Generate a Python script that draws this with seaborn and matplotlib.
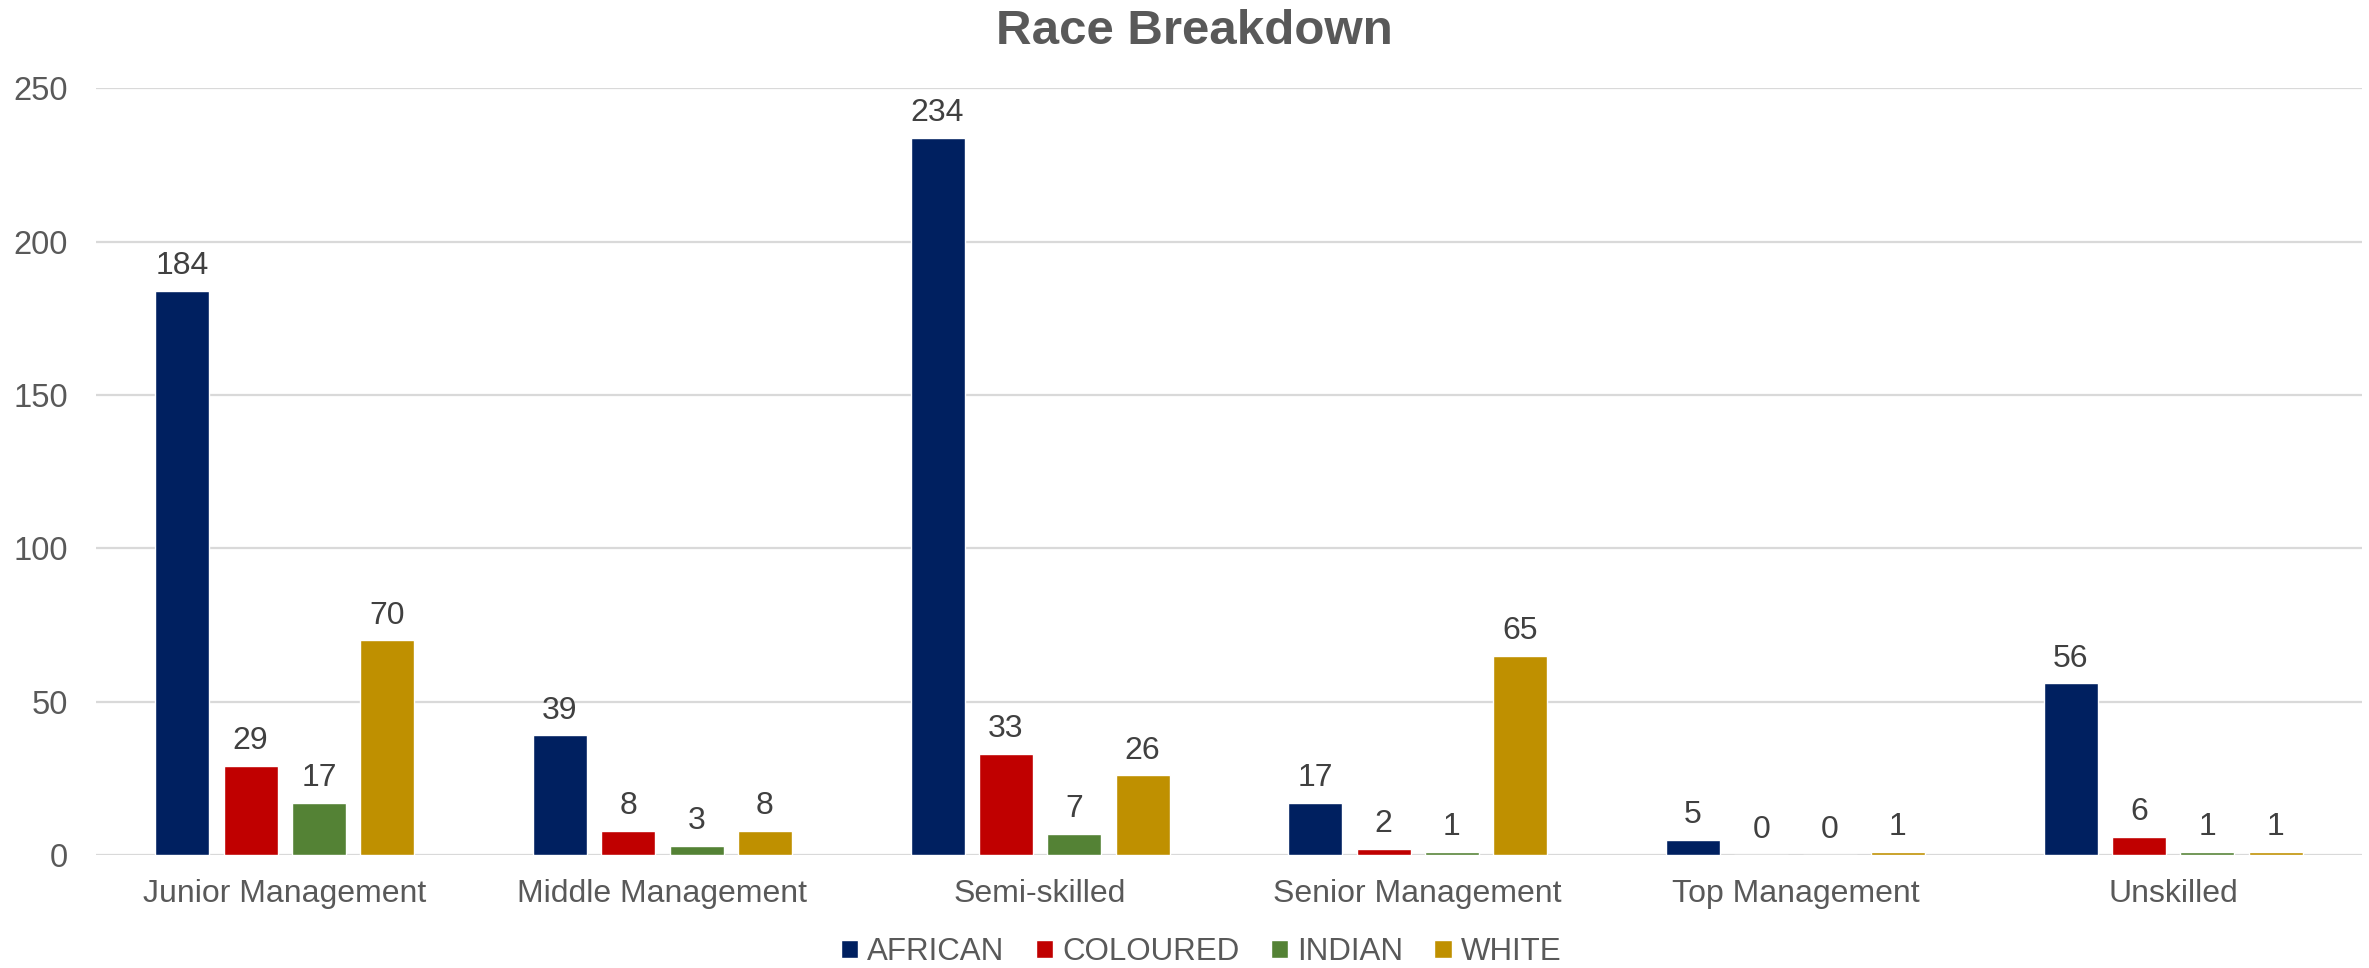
import matplotlib
matplotlib.use("Agg")
import matplotlib.pyplot as plt
import seaborn as sns
import pandas as pd

# Occupational levels and head counts per race group
levels = ["Junior Management", "Middle Management", "Semi-skilled",
          "Senior Management", "Top Management", "Unskilled"]
races = ["AFRICAN", "COLOURED", "INDIAN", "WHITE"]
african = [184, 39, 234, 17, 5, 56]
coloured = [29, 8, 33, 2, 0, 6]
indian = [17, 3, 7, 1, 0, 1]
white = [70, 8, 26, 65, 1, 1]
colors = ["#002060", "#C00000", "#548235", "#BF9000"]

rows = []
for race, vals in zip(races, [african, coloured, indian, white]):
    for lvl, v in zip(levels, vals):
        rows.append({"level": lvl, "race": race, "count": v})
df = pd.DataFrame(rows)

sns.set_theme(style="white")
plt.rcParams["font.family"] = ["Liberation Sans", "DejaVu Sans"]

text_grey = "#595959"
fig = plt.figure(figsize=(23.69, 9.68), dpi=100)
ax = fig.add_axes([0.0405, 0.1167, 0.9565, 0.7919])

sns.barplot(data=df, x="level", y="count", hue="race", order=levels,
            hue_order=races, palette=colors, width=0.724, gap=0.21,
            saturation=1, ax=ax, legend=True)

for cont in ax.containers:
    ax.bar_label(cont, padding=7, fontsize=23, color="#404040")

ax.set_ylim(0, 250)
ax.set_yticks(range(0, 251, 50))
ax.set_xlim(-0.5, len(levels) - 0.5)
ax.yaxis.grid(True, color="#D9D9D9", linewidth=1.6)
ax.set_axisbelow(True)
for s in ax.spines.values():
    s.set_visible(False)
ax.set_xlabel("")
ax.set_ylabel("")
ax.tick_params(axis="y", length=0, pad=20, labelsize=23.5, labelcolor=text_grey)
ax.tick_params(axis="x", length=0, pad=17, labelsize=23, labelcolor=text_grey)

handles, labels = ax.get_legend_handles_labels()
ax.legend_.remove()
fig.legend(handles, labels, loc="center", bbox_to_anchor=(0.507, 0.0165),
           ncol=4, frameon=False, fontsize=22.5, labelcolor=text_grey,
           handlelength=0.55, handleheight=0.55, handletextpad=0.3,
           columnspacing=1.0)

fig.text(0.504, 0.967, "Race Breakdown", ha="center", va="center",
         fontsize=35.5, fontweight="bold", color=text_grey)

fig.savefig("out.png", dpi=100)
